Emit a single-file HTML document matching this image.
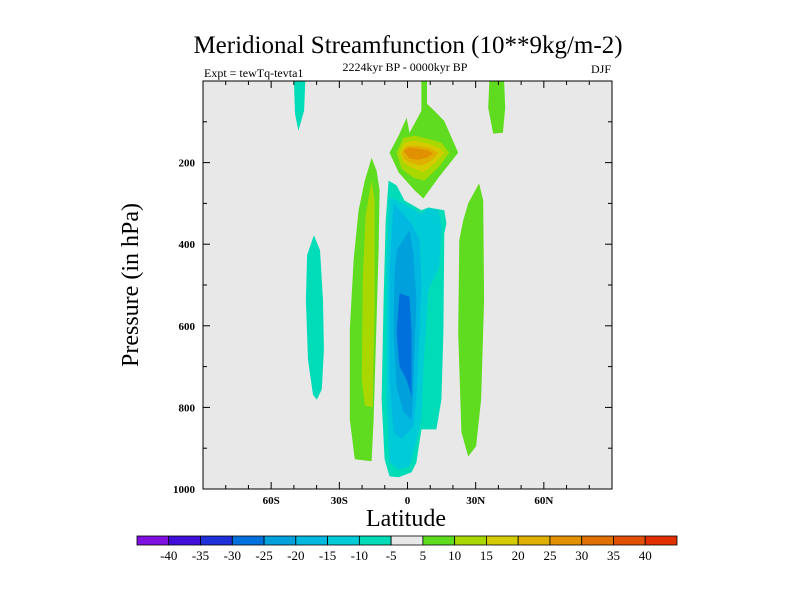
<!DOCTYPE html>
<html><head><meta charset="utf-8"><style>
body{margin:0;background:#fff;}
svg{display:block;font-family:"Liberation Serif",serif;}
</style></head><body>
<svg id="chart" width="800" height="600" viewBox="0 0 800 600" xmlns="http://www.w3.org/2000/svg">
<text x="408" y="53" font-size="25" text-anchor="middle">Meridional Streamfunction (10**9kg/m-2)</text>
<text x="405" y="71" font-size="12" text-anchor="middle">2224kyr BP - 0000kyr BP</text>
<text x="204" y="77" font-size="12">Expt = tewTq-tevta1</text>
<text x="611" y="73" font-size="12" text-anchor="end">DJF</text>
<text transform="translate(138,285) rotate(-90)" font-size="24" text-anchor="middle">Pressure (in hPa)</text>
<text x="406" y="526" font-size="24" text-anchor="middle">Latitude</text>
<g id="plot"></g>
<g id="cbar"></g>
</svg>
<script>
const levels=[-40,-35,-30,-25,-20,-15,-10,-5,5,10,15,20,25,30,35,40];
const levelColors=["#8010e0","#4010d8","#2030d8","#0070dc","#00a0dc","#00b8e0","#00ccd8","#00dcb8","#e8e8e8","#60dc20","#a8d800","#d4cc00","#e0b000","#e09000","#e07000","#e05000","#e03000"];
const latTicks=[-60,-30,0,30,60];
const latTickLabels=["60S","30S","0","30N","60N"];
const presTicks=[200,400,600,800,1000];
// contour regions: colour index + outline in [lat, hPa]
const regionColor=[7,9,9,10,11,12,13,9,10,7,6,5,4,3,7,9];
const regionNames=["teal-top-left","green-top-right","green-upper-cell","cell-10","cell-15","cell-20","cell-25","green-left-strip","yellowgreen-left-strip","teal-column","cyan-column","lightblue-column","blue-column","darkblue-core","teal-left-strip","green-right-strip"];
const regionLat=[
[-50,-45,-45.5,-48,-49.5],
[36,42.5,43,42,37.7,35.5],
[6.1,8.6,8.6,11.8,16.2,22.3,13.6,7,3.1,-3.9,-7.9,-3.9,-0.4,0.9,3.1,6.1],
[-4.8,-1.8,3.1,9.2,14.9,18.4,13.6,7.4,2.6,-2.6],
[-3.5,-1.3,3.1,9.2,13.6,16.2,11.8,7,1.8,-1.8],
[-2.6,-0.4,4.8,9.6,13.6,10.5,6.1,0.9,-1.8],
[-1.8,0.4,5.3,9.2,11.4,8.3,4.8,0.9],
[-15.8,-13.6,-12.3,-12.7,-14,-14.9,-15.8,-23.2,-25.4,-25.4,-23.7,-21.5,-18.8],
[-15.8,-14.5,-14.5,-15.3,-18.8,-20.1,-19.7,-18.4],
[-8.3,-4.8,-1.3,6.1,9.2,16.2,17.1,16.2,15.8,14.9,12.7,6.1,3.9,1.8,-3.9,-7.9,-10.1,-11.4,-10.5,-9.6],
[-7.9,-1.8,1.8,6.1,9.2,13.6,14.9,14,9.2,7,6.1,3.1,0.9,-3.9,-7.9,-9.2,-9.2],
[-6.1,1.8,5.3,6.1,5.3,3.9,2.6,-2.6,-6.1,-7.9,-7.9],
[-4.8,0.9,2.6,3.9,3.1,2.6,1.8,-1.8,-4.8,-6.1,-5.7],
[-3.5,0.9,1.8,1.8,-0.4,-3.5,-4.8],
[-41.2,-38.5,-37.2,-36.8,-37.7,-39.9,-41.6,-43.8,-44.7,-44.2],
[31.5,33.3,33.7,32.4,30.2,26.7,23.7,22.3,22.8,24.5,26.7]];
const regionPres=[
[0,0,73,122,80],
[0,0,66,127,129,66],
[0,0,56,73,98,176,237,288,268,224,176,134,90,127,105,73],
[176,139,134,142,151,176,212,244,237,215],
[176,151,146,154,163,176,203,224,212,200],
[176,159,159,163,176,195,207,200,190],
[171,163,166,171,178,188,193,190],
[188,220,268,415,659,830,932,927,830,610,439,317,244],
[244,293,537,800,795,732,488,329],
[244,256,293,317,310,317,349,373,617,781,854,854,935,959,971,969,927,781,537,342],
[285,300,312,325,312,317,359,456,512,700,830,903,944,952,935,781,456],
[300,349,390,495,617,781,847,878,861,739,456],
[415,366,422,537,659,749,830,812,749,617,471],
[520,529,617,773,732,700,617],
[378,415,537,659,756,781,769,683,537,427],
[251,293,537,781,895,920,861,617,390,342,300]];

const X0=203,X1=612,Y0=81,Y1=489;
const xs=lat=>X0+(lat+90)/180*(X1-X0);
const ys=p=>Y0+p/1000*(Y1-Y0);
const NS="http://www.w3.org/2000/svg";
const plot=document.getElementById('plot');
function mk(tag,attrs,parent){const e=document.createElementNS(NS,tag);for(const k in attrs)e.setAttribute(k,attrs[k]);parent.appendChild(e);return e;}
const bg=mk('rect',{x:X0,y:Y0,width:X1-X0,height:Y1-Y0,fill:'#e8e8e8'},plot);


const cp=mk('clipPath',{id:'clip'},plot);mk('rect',{x:X0,y:Y0,width:X1-X0,height:Y1-Y0},cp);
const cg=mk('g',{'clip-path':'url(#clip)'},plot);
regionLat.forEach((la,i)=>{
 const d=la.map((l,j)=>(j?'L':'M')+xs(l).toFixed(1)+','+ys(regionPres[i][j]).toFixed(1)).join('')+'Z';
 const p=mk('path',{d:d,fill:levelColors[regionColor[i]]},cg);
 
 
});
const fr=mk('rect',{x:X0,y:Y0,width:X1-X0,height:Y1-Y0,fill:'none',stroke:'#000','stroke-width':1},plot);


// x ticks
for(let l=-80;l<=80;l+=10){const maj=l%30===0;const x=xs(l);const len=maj?7:4;
 mk('line',{x1:x,x2:x,y1:Y1,y2:Y1-len,stroke:'#000'},plot);mk('line',{x1:x,x2:x,y1:Y0,y2:Y0+len,stroke:'#000'},plot);}
latTicks.forEach((l,i)=>{const t=mk('text',{x:xs(l),y:Y1+15,'font-size':11,'font-weight':'bold','text-anchor':'middle'},plot);t.textContent=latTickLabels[i];
 
 });
for(let p=100;p<1000;p+=100){const y=ys(p);const len=p%200===0?7:4;
 mk('line',{x1:X0,x2:X0+len,y1:y,y2:y,stroke:'#000'},plot);mk('line',{x1:X1,x2:X1-len,y1:y,y2:y,stroke:'#000'},plot);}
presTicks.forEach(p=>{const t=mk('text',{x:X0-8,y:ys(p)+4,'font-size':11,'font-weight':'bold','text-anchor':'end'},plot);t.textContent=p;
 
 });
// colorbar
const cb=document.getElementById('cbar');const CX=137,CW=540,CY=536,CH=9,bw=CW/levelColors.length;
levelColors.forEach((c,i)=>{const r=mk('rect',{x:CX+i*bw,y:CY,width:bw,height:CH,fill:c,stroke:'#000','stroke-width':0.8},cb);
 
 });
levels.forEach((v,i)=>{const t=mk('text',{x:CX+(i+1)*bw,y:CY+24,'font-size':13,'text-anchor':'middle'},cb);t.textContent=v;
 
 });
</script>
</body></html>
